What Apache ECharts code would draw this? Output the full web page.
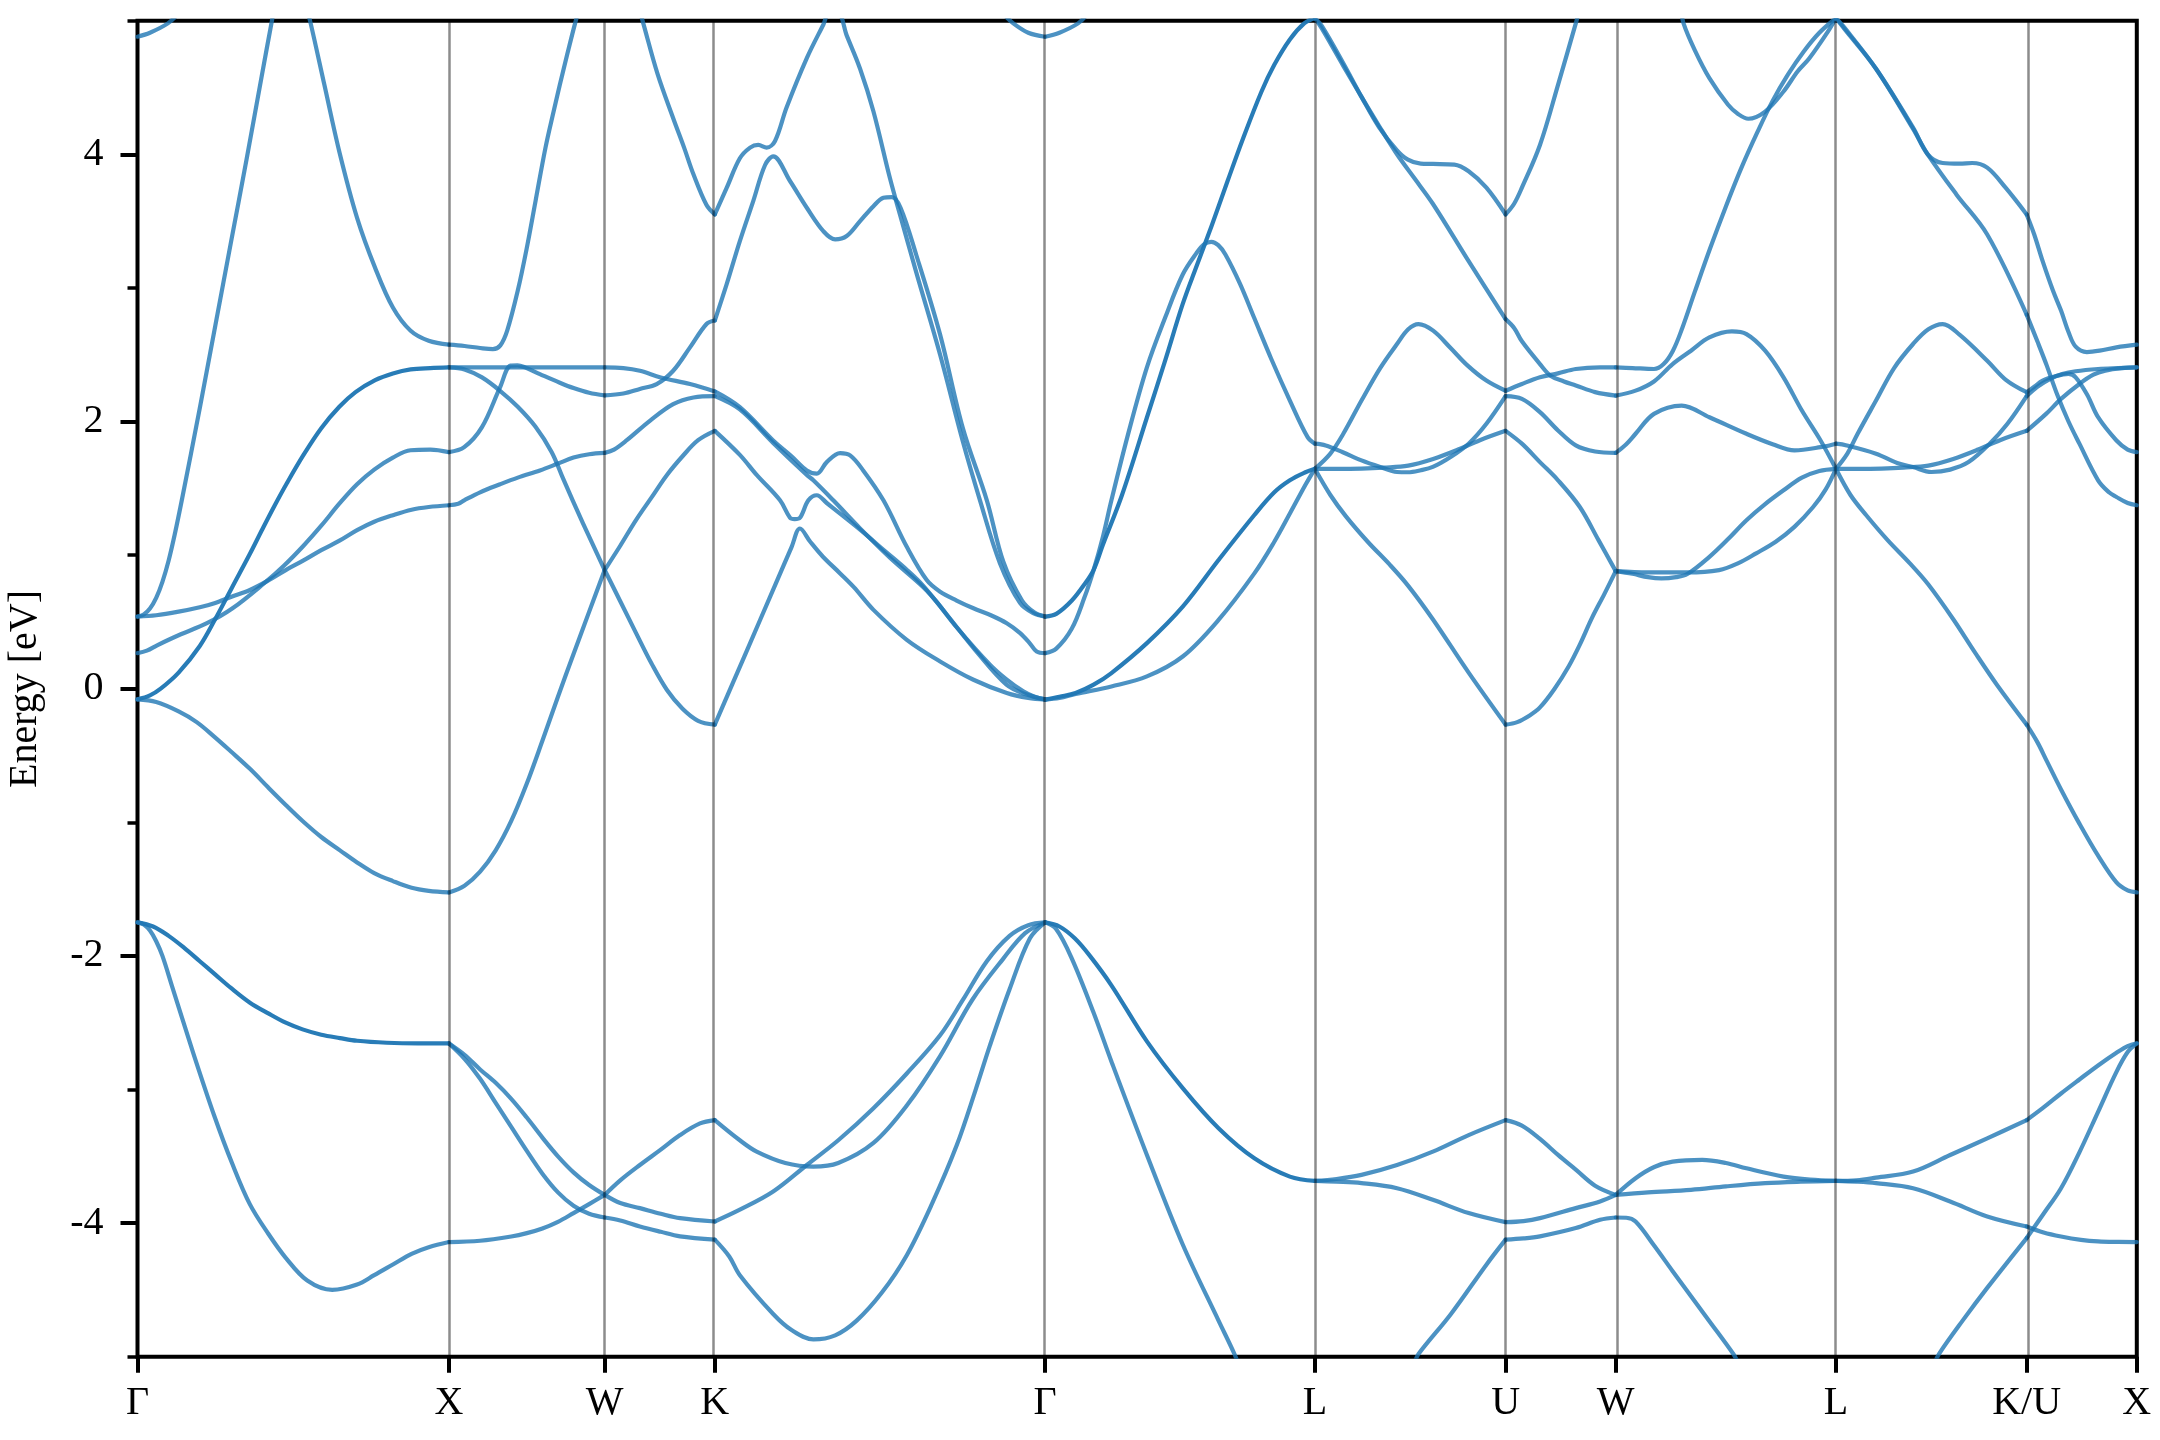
<!DOCTYPE html>
<html><head><meta charset="utf-8">
<script src="https://cdn.jsdelivr.net/npm/echarts@6/dist/echarts.min.js"></script>
<style>html,body{margin:0;padding:0;background:#fff}#c{width:2160px;height:1440px}</style>
</head><body><div id="c"></div>
<script>
// high-symmetry path (cumulative k, FCC)
const kNodes = [0, 1, 1.5, 1.8536, 2.9142, 3.7802, 4.3926, 4.7462, 5.4533, 6.0657, 6.4193];
const kLabels = ['Γ', 'X', 'W', 'K', 'Γ', 'L', 'U', 'W', 'L', 'K/U', 'X'];
const yTicks = [-4, -2, 0, 2, 4];
const yMinorTicks = [-5, -3, -1, 1, 3, 5];

// doubly degenerate bands (drawn darker)
const darkGX1 = [[0,-1.749],[0.05,-1.78],[0.1,-1.85],[0.15,-1.94],[0.2,-2.04],[0.25,-2.14],[0.3,-2.24],[0.361,-2.35],[0.42,-2.43],[0.476,-2.5],[0.53,-2.55],[0.59,-2.59],[0.65,-2.615],[0.705,-2.635],[0.8,-2.65],[0.9,-2.655],[1,-2.655]];
const darkGX2 = [[0,-0.08],[0.04,-0.05],[0.0745,0.0],[0.132,0.12],[0.2,0.32],[0.247,0.51],[0.304,0.76],[0.361,1.01],[0.4,1.19],[0.44,1.37],[0.48,1.54],[0.533,1.75],[0.59,1.95],[0.648,2.11],[0.7,2.22],[0.763,2.31],[0.82,2.36],[0.877,2.39],[0.94,2.4],[1,2.405]];
const darkGL1 = [[2.9142,0.54],[2.95,0.56],[3.0,0.66],[3.04,0.78],[3.07,0.89],[3.1,1.08],[3.161,1.45],[3.241,2.03],[3.3,2.46],[3.356,2.88],[3.4,3.16],[3.448,3.46],[3.5,3.8],[3.55,4.12],[3.609,4.47],[3.65,4.67],[3.7,4.86],[3.746,4.98],[3.7802,5.02]];
const darkGL2 = [[2.9142,-0.082],[2.96,-0.06],[3.012,-0.032],[3.07,0.03],[3.127,0.117],[3.241,0.341],[3.356,0.614],[3.471,0.963],[3.586,1.3],[3.65,1.47],[3.7,1.56],[3.75,1.62],[3.7802,1.646]];
const darkGL3 = [[2.9142,-1.749],[2.96,-1.78],[3.01,-1.87],[3.058,-2.0],[3.127,-2.22],[3.241,-2.64],[3.356,-2.99],[3.471,-3.29],[3.586,-3.515],[3.7,-3.652],[3.7802,-3.684]];
const darkBands = [darkGX1, darkGX2, darkGL1, darkGL2, darkGL3];

// Γ - X
const bandsGX = [
  [[0,-1.749],[0.02,-1.765],[0.04,-1.81],[0.06,-1.89],[0.08,-2.0],[0.11,-2.22],[0.178,-2.72],[0.247,-3.2],[0.305,-3.56],[0.361,-3.86],[0.42,-4.08],[0.476,-4.26],[0.545,-4.43],[0.625,-4.5],[0.705,-4.46],[0.76,-4.39],[0.82,-4.31],[0.88,-4.23],[0.935,-4.18],[1,-4.142]],
  [[0,-0.08],[0.06,-0.1],[0.132,-0.17],[0.19,-0.25],[0.247,-0.36],[0.3,-0.47],[0.361,-0.6],[0.42,-0.74],[0.476,-0.87],[0.53,-0.99],[0.59,-1.11],[0.65,-1.21],[0.705,-1.3],[0.76,-1.38],[0.82,-1.44],[0.88,-1.49],[0.935,-1.513],[1,-1.525]],
  [[0,0.266],[0.03,0.285],[0.063,0.325],[0.132,0.4],[0.223,0.49],[0.304,0.6],[0.407,0.79],[0.47,0.92],[0.533,1.07],[0.59,1.22],[0.65,1.39],[0.705,1.53],[0.76,1.64],[0.82,1.73],[0.877,1.785],[0.94,1.79],[1,1.771]],
  [[0,0.54],[0.06,0.55],[0.132,0.577],[0.2,0.61],[0.247,0.64],[0.304,0.69],[0.361,0.739],[0.42,0.81],[0.476,0.888],[0.533,0.96],[0.59,1.037],[0.65,1.11],[0.705,1.187],[0.76,1.25],[0.82,1.299],[0.88,1.34],[0.935,1.36],[1,1.373]],
  [[0,0.54],[0.02,0.555],[0.04,0.6],[0.06,0.68],[0.08,0.8],[0.1,0.96],[0.12,1.16],[0.143,1.42],[0.2,2.1],[0.25,2.72],[0.3,3.34],[0.35,3.96],[0.4,4.6],[0.43,4.98],[0.45,5.22]],
  [[0,4.88],[0.04,4.91],[0.0975,4.98],[0.13,5.05]],
  [[0.54,5.12],[0.556,4.98],[0.6,4.52],[0.648,4.02],[0.705,3.525],[0.763,3.15],[0.82,2.853],[0.877,2.679],[0.935,2.604],[1,2.575]]
];
// X - W
const bandsXW = [
  [[1,2.575],[1.05,2.565],[1.1,2.55],[1.141,2.542],[1.165,2.57],[1.187,2.68],[1.221,2.98],[1.25,3.3],[1.278,3.65],[1.31,4.05],[1.336,4.32],[1.356,4.52],[1.38,4.75],[1.405,4.98],[1.42,5.1]],
  [[1,2.405],[1.25,2.405],[1.5,2.405]],
  [[1,2.405],[1.05,2.39],[1.106,2.33],[1.164,2.23],[1.221,2.11],[1.278,1.96],[1.33,1.77],[1.367,1.57],[1.43,1.24],[1.5,0.888]],
  [[1,1.771],[1.049,1.808],[1.106,1.958],[1.164,2.256],[1.198,2.418],[1.22,2.42],[1.244,2.405],[1.292,2.355],[1.356,2.29],[1.4,2.25],[1.45,2.215],[1.5,2.195]],
  [[1,1.373],[1.03,1.385],[1.049,1.41],[1.1,1.47],[1.164,1.53],[1.221,1.58],[1.292,1.634],[1.35,1.685],[1.4,1.73],[1.45,1.755],[1.5,1.765]],
  [[1,-1.525],[1.05,-1.475],[1.1,-1.37],[1.15,-1.21],[1.2,-0.99],[1.25,-0.71],[1.3,-0.39],[1.35,-0.06],[1.4,0.26],[1.45,0.575],[1.5,0.888]],
  [[1,-2.655],[1.05,-2.74],[1.1,-2.85],[1.15,-2.95],[1.2,-3.07],[1.25,-3.21],[1.3,-3.36],[1.35,-3.5],[1.4,-3.62],[1.45,-3.715],[1.5,-3.789]],
  [[1,-2.655],[1.05,-2.77],[1.1,-2.92],[1.15,-3.1],[1.2,-3.28],[1.25,-3.46],[1.3,-3.63],[1.35,-3.77],[1.4,-3.87],[1.45,-3.93],[1.5,-3.958]],
  [[1,-4.142],[1.1,-4.132],[1.2,-4.1],[1.25,-4.075],[1.3,-4.04],[1.35,-3.99],[1.4,-3.925],[1.45,-3.858],[1.5,-3.789]]
];
// W - K
const bandsWK = [
  [[1.61,5.1],[1.624,4.98],[1.67,4.6],[1.72,4.27],[1.755,4.05],[1.785,3.85],[1.827,3.62],[1.8536,3.55]],
  [[1.5,2.405],[1.56,2.4],[1.613,2.38],[1.68,2.33],[1.774,2.28],[1.8536,2.225]],
  [[1.5,2.195],[1.56,2.21],[1.613,2.244],[1.667,2.28],[1.72,2.38],[1.774,2.555],[1.827,2.73],[1.8536,2.756]],
  [[1.5,1.765],[1.53,1.79],[1.571,1.86],[1.646,2.007],[1.72,2.13],[1.785,2.18],[1.8536,2.19]],
  [[1.5,0.888],[1.55,1.07],[1.6,1.26],[1.65,1.43],[1.7,1.6],[1.75,1.74],[1.8,1.86],[1.8536,1.93]],
  [[1.5,0.888],[1.55,0.655],[1.6,0.42],[1.65,0.19],[1.7,-0.01],[1.75,-0.15],[1.8,-0.24],[1.8536,-0.269]],
  [[1.5,-3.789],[1.55,-3.68],[1.613,-3.565],[1.68,-3.45],[1.742,-3.341],[1.806,-3.254],[1.8536,-3.229]],
  [[1.5,-3.789],[1.55,-3.85],[1.613,-3.888],[1.68,-3.93],[1.742,-3.963],[1.8536,-3.988]],
  [[1.5,-3.958],[1.55,-3.98],[1.613,-4.025],[1.68,-4.065],[1.742,-4.099],[1.8536,-4.124]]
];
// K - Γ
const bandsKG = [
  [[1.8536,3.55],[1.892,3.75],[1.934,3.97],[1.967,4.05],[1.993,4.07],[2.02,4.05],[2.047,4.1],[2.084,4.35],[2.149,4.72],[2.202,4.97],[2.22,5.05],[2.25,5.05],[2.277,4.89],[2.32,4.64],[2.363,4.32],[2.416,3.82],[2.448,3.55],[2.5,3.12],[2.577,2.5],[2.65,1.85],[2.705,1.41],[2.769,0.94],[2.834,0.64],[2.876,0.565],[2.9142,0.54]],
  [[1.8536,2.756],[1.892,3.03],[1.934,3.35],[1.977,3.65],[2.015,3.92],[2.041,3.985],[2.095,3.8],[2.149,3.6],[2.202,3.425],[2.24,3.363],[2.277,3.388],[2.32,3.5],[2.363,3.612],[2.395,3.674],[2.422,3.68],[2.45,3.6],[2.5,3.25],[2.577,2.65],[2.65,1.95],[2.727,1.41],[2.78,0.95],[2.84,0.66],[2.88,0.57],[2.9142,0.54]],
  [[1.8536,2.225],[1.934,2.107],[2.041,1.858],[2.1,1.74],[2.149,1.634],[2.181,1.61],[2.213,1.696],[2.256,1.764],[2.288,1.746],[2.33,1.634],[2.395,1.41],[2.47,1.062],[2.534,0.813],[2.577,0.726],[2.63,0.66],[2.684,0.602],[2.74,0.55],[2.791,0.49],[2.834,0.416],[2.865,0.34],[2.887,0.278],[2.9142,0.266]],
  [[1.8536,2.19],[1.934,2.09],[2.041,1.84],[2.149,1.6],[2.17,1.56],[2.234,1.41],[2.32,1.2],[2.416,0.98],[2.523,0.76],[2.566,0.65],[2.63,0.46],[2.737,0.18],[2.79,0.07],[2.844,-0.02],[2.88,-0.06],[2.9142,-0.08]],
  [[1.8536,1.93],[1.934,1.75],[1.988,1.6],[2.063,1.41],[2.095,1.28],[2.11,1.27],[2.127,1.28],[2.154,1.41],[2.181,1.448],[2.213,1.39],[2.256,1.31],[2.32,1.19],[2.4,1.03],[2.47,0.89],[2.523,0.77],[2.6,0.55],[2.7,0.26],[2.79,0.03],[2.85,-0.04],[2.9142,-0.08]],
  [[1.8536,-0.269],[1.95,0.25],[2.05,0.79],[2.1,1.06],[2.127,1.199],[2.16,1.1],[2.2,0.99],[2.256,0.863],[2.3,0.76],[2.363,0.59],[2.47,0.366],[2.577,0.204],[2.684,0.067],[2.791,-0.032],[2.86,-0.07],[2.9142,-0.082]],
  [[1.8536,-3.229],[1.934,-3.38],[1.988,-3.465],[2.08,-3.55],[2.17,-3.577],[2.25,-3.55],[2.363,-3.4],[2.47,-3.12],[2.577,-2.75],[2.68,-2.33],[2.78,-2.02],[2.85,-1.83],[2.9142,-1.749]],
  [[1.8536,-3.988],[1.934,-3.9],[2.041,-3.764],[2.149,-3.565],[2.25,-3.38],[2.363,-3.14],[2.47,-2.88],[2.577,-2.594],[2.65,-2.33],[2.727,-2.04],[2.8,-1.85],[2.86,-1.77],[2.9142,-1.749]],
  [[1.8536,-4.124],[1.9,-4.25],[1.934,-4.39],[2.041,-4.68],[2.1,-4.8],[2.17,-4.87],[2.24,-4.84],[2.309,-4.73],[2.39,-4.52],[2.47,-4.24],[2.55,-3.86],[2.63,-3.42],[2.69,-3.01],[2.737,-2.67],[2.8,-2.25],[2.865,-1.87],[2.9142,-1.749]],
  [[2.78,5.05],[2.812,4.98],[2.86,4.91],[2.9142,4.88]]
];
// Γ - L
const bandsGL = [
  [[2.9142,4.88],[2.96,4.91],[3.02,4.98],[3.05,5.05]],
  [[2.9142,0.266],[2.95,0.3],[3.0,0.45],[3.04,0.68],[3.07,0.89],[3.1,1.14],[3.127,1.41],[3.18,1.9],[3.241,2.405],[3.3,2.78],[3.356,3.1],[3.4,3.26],[3.424,3.326],[3.448,3.345],[3.47,3.32],[3.493,3.25],[3.54,3.03],[3.585,2.778],[3.64,2.47],[3.7,2.157],[3.757,1.883],[3.7802,1.834]],
  [[2.9142,-0.082],[2.96,-0.07],[3.012,-0.04],[3.127,0.017],[3.241,0.092],[3.356,0.241],[3.471,0.515],[3.586,0.863],[3.65,1.1],[3.7,1.311],[3.751,1.53],[3.7802,1.646]],
  [[2.9142,-1.749],[2.95,-1.8],[3.0,-2.02],[3.069,-2.42],[3.127,-2.79],[3.241,-3.49],[3.356,-4.16],[3.471,-4.73],[3.522,-4.98],[3.55,-5.15]]
];
// L - U
const bandsLU = [
  [[3.7802,5.02],[3.803,4.96],[3.872,4.68],[3.93,4.43],[3.987,4.2],[4.044,4.03],[4.079,3.96],[4.12,3.93],[4.159,3.928],[4.228,3.923],[4.274,3.873],[4.331,3.75],[4.3926,3.55]],
  [[3.7802,5.02],[3.803,4.94],[3.872,4.66],[3.93,4.43],[3.987,4.21],[4.044,4.0],[4.1,3.82],[4.159,3.63],[4.274,3.2],[4.3926,2.766]],
  [[3.7802,1.646],[3.83,1.76],[3.872,1.91],[3.93,2.157],[3.99,2.4],[4.044,2.58],[4.08,2.69],[4.113,2.729],[4.16,2.68],[4.216,2.55],[4.27,2.42],[4.331,2.306],[4.3926,2.23]],
  [[3.7802,1.834],[3.815,1.821],[3.87,1.77],[3.93,1.709],[3.99,1.66],[4.044,1.622],[4.079,1.62],[4.12,1.635],[4.159,1.66],[4.216,1.734],[4.274,1.834],[4.331,1.983],[4.3926,2.19]],
  [[3.7802,1.646],[3.85,1.646],[3.93,1.648],[4.0,1.655],[4.08,1.67],[4.16,1.72],[4.24,1.79],[4.31,1.86],[4.3926,1.93]],
  [[3.7802,1.646],[3.83,1.45],[3.88,1.29],[3.95,1.1],[4.02,0.93],[4.08,0.77],[4.159,0.52],[4.274,0.12],[4.3926,-0.269]],
  [[3.7802,-3.684],[3.85,-3.67],[3.93,-3.639],[4.044,-3.565],[4.159,-3.465],[4.274,-3.341],[4.3926,-3.229]],
  [[3.7802,-3.684],[3.85,-3.69],[3.93,-3.701],[4.044,-3.739],[4.159,-3.826],[4.274,-3.925],[4.3926,-3.993]],
  [[4.1,-5.05],[4.113,-4.98],[4.216,-4.684],[4.331,-4.311],[4.3926,-4.124]]
];
// U - W
const bandsUW = [
  [[4.3926,3.55],[4.42,3.63],[4.445,3.75],[4.503,4.07],[4.561,4.52],[4.618,4.98],[4.635,5.12]],
  [[4.3926,2.766],[4.42,2.7],[4.445,2.6],[4.503,2.43],[4.537,2.343],[4.58,2.3],[4.618,2.27],[4.68,2.22],[4.7462,2.194]],
  [[4.3926,2.23],[4.445,2.281],[4.503,2.331],[4.561,2.36],[4.618,2.393],[4.696,2.405],[4.7462,2.405]],
  [[4.3926,2.19],[4.445,2.169],[4.503,2.07],[4.561,1.933],[4.618,1.821],[4.68,1.775],[4.7462,1.765]],
  [[4.3926,1.93],[4.445,1.834],[4.503,1.696],[4.561,1.56],[4.631,1.36],[4.691,1.112],[4.7462,0.88]],
  [[4.3926,-0.269],[4.43,-0.25],[4.47,-0.2],[4.503,-0.14],[4.55,0.0],[4.595,0.166],[4.631,0.33],[4.67,0.53],[4.71,0.71],[4.7462,0.88]],
  [[4.3926,-3.229],[4.445,-3.27],[4.503,-3.37],[4.561,-3.49],[4.618,-3.6],[4.68,-3.72],[4.7462,-3.789]],
  [[4.3926,-3.993],[4.45,-3.985],[4.503,-3.963],[4.618,-3.888],[4.696,-3.838],[4.7462,-3.789]],
  [[4.3926,-4.124],[4.45,-4.115],[4.503,-4.099],[4.618,-4.037],[4.696,-3.975],[4.7462,-3.958]]
];
// W - L
const bandsWL = [
  [[4.7462,2.405],[4.8,2.4],[4.869,2.393],[4.9,2.43],[4.93,2.53],[4.96,2.7],[5.0,2.97],[5.05,3.3],[5.1,3.61],[5.15,3.9],[5.2,4.16],[5.25,4.4],[5.3,4.6],[5.35,4.77],[5.4,4.91],[5.4533,5.02]],
  [[4.955,5.1],[4.964,4.98],[5.0,4.78],[5.047,4.57],[5.107,4.371],[5.14,4.3],[5.172,4.266],[5.226,4.32],[5.285,4.47],[5.33,4.62],[5.368,4.719],[5.428,4.92],[5.4533,5.02]],
  [[4.7462,2.194],[4.81,2.231],[4.869,2.3],[4.929,2.43],[4.988,2.53],[5.047,2.629],[5.119,2.674],[5.166,2.654],[5.226,2.53],[5.285,2.331],[5.344,2.082],[5.404,1.858],[5.4533,1.646]],
  [[4.7462,1.765],[4.78,1.83],[4.81,1.908],[4.869,2.057],[4.958,2.119],[5.047,2.032],[5.166,1.908],[5.25,1.83],[5.32,1.784],[5.404,1.808],[5.4533,1.834]],
  [[4.7462,0.88],[4.8,0.86],[4.85,0.835],[4.893,0.826],[4.94,0.835],[4.976,0.858],[5.047,0.987],[5.107,1.12],[5.166,1.261],[5.225,1.38],[5.285,1.485],[5.344,1.58],[5.4,1.63],[5.4533,1.646]],
  [[4.7462,0.88],[4.85,0.87],[4.976,0.87],[5.078,0.888],[5.14,0.94],[5.197,1.013],[5.26,1.1],[5.32,1.211],[5.38,1.36],[5.42,1.49],[5.4533,1.646]],
  [[4.7462,-3.789],[4.81,-3.664],[4.87,-3.58],[4.929,-3.54],[5.024,-3.527],[5.1,-3.55],[5.166,-3.59],[5.285,-3.652],[5.37,-3.675],[5.4533,-3.684]],
  [[4.7462,-3.789],[4.85,-3.77],[4.988,-3.751],[5.1,-3.725],[5.226,-3.701],[5.34,-3.69],[5.4533,-3.684]],
  [[4.7462,-3.958],[4.78,-3.96],[4.81,-3.988],[4.87,-4.17],[4.929,-4.36],[5.047,-4.734],[5.124,-4.98],[5.14,-5.05]]
];
// L - K/U
const bandsLK = [
  [[5.4533,5.02],[5.48,4.95],[5.582,4.64],[5.701,4.2],[5.748,4.0],[5.796,3.935],[5.85,3.93],[5.891,3.935],[5.939,3.9],[5.998,3.75],[6.0657,3.55]],
  [[5.4533,5.02],[5.48,4.94],[5.582,4.64],[5.701,4.19],[5.748,4.0],[5.84,3.7],[5.939,3.4],[6.0657,2.8]],
  [[5.4533,1.646],[5.49,1.76],[5.523,1.908],[5.582,2.157],[5.64,2.4],[5.701,2.58],[5.75,2.69],[5.796,2.729],[5.85,2.65],[5.939,2.455],[6.0,2.31],[6.0657,2.219]],
  [[5.4533,1.834],[5.488,1.821],[5.582,1.759],[5.65,1.69],[5.701,1.659],[5.76,1.622],[5.82,1.64],[5.879,1.696],[5.947,1.834],[6.004,1.983],[6.0657,2.19]],
  [[5.4533,1.646],[5.52,1.646],[5.6,1.648],[5.67,1.655],[5.75,1.67],[5.83,1.72],[5.91,1.79],[5.98,1.86],[6.0657,1.93]],
  [[5.4533,1.646],[5.5,1.45],[5.55,1.3],[5.62,1.11],[5.69,0.94],[5.75,0.78],[5.83,0.52],[5.9,0.27],[5.97,0.03],[6.0657,-0.269]],
  [[5.4533,-3.684],[5.52,-3.68],[5.582,-3.66],[5.701,-3.614],[5.82,-3.49],[5.939,-3.366],[6.0657,-3.229]],
  [[5.4533,-3.684],[5.52,-3.69],[5.582,-3.701],[5.701,-3.739],[5.82,-3.838],[5.939,-3.95],[6.0657,-4.025]],
  [[5.77,-5.05],[5.784,-4.98],[5.86,-4.73],[5.939,-4.485],[6.0657,-4.112]]
];
// K/U - X
const bandsKX = [
  [[6.0657,3.55],[6.09,3.4],[6.117,3.2],[6.15,2.98],[6.176,2.83],[6.2,2.67],[6.223,2.56],[6.259,2.52],[6.3,2.53],[6.354,2.555],[6.4193,2.575]],
  [[6.0657,2.8],[6.1,2.6],[6.13,2.42],[6.164,2.2],[6.2,2.0],[6.235,1.834],[6.295,1.56],[6.33,1.47],[6.354,1.435],[6.39,1.39],[6.4193,1.373]],
  [[6.0657,2.219],[6.09,2.26],[6.117,2.306],[6.16,2.34],[6.2,2.356],[6.223,2.331],[6.26,2.2],[6.295,2.032],[6.354,1.858],[6.39,1.79],[6.4193,1.771]],
  [[6.0657,2.19],[6.1,2.26],[6.14,2.318],[6.18,2.355],[6.223,2.376],[6.295,2.393],[6.36,2.4],[6.4193,2.405]],
  [[6.0657,1.93],[6.128,2.057],[6.176,2.169],[6.235,2.281],[6.28,2.35],[6.318,2.381],[6.37,2.4],[6.4193,2.405]],
  [[6.0657,-0.269],[6.1,-0.4],[6.13,-0.54],[6.176,-0.754],[6.235,-1.01],[6.295,-1.25],[6.354,-1.45],[6.39,-1.51],[6.4193,-1.525]],
  [[6.0657,-3.229],[6.117,-3.14],[6.176,-3.03],[6.235,-2.925],[6.295,-2.82],[6.354,-2.725],[6.39,-2.675],[6.4193,-2.655]],
  [[6.0657,-4.025],[6.12,-4.07],[6.176,-4.1],[6.24,-4.125],[6.295,-4.137],[6.36,-4.141],[6.4193,-4.142]],
  [[6.0657,-4.112],[6.12,-3.93],[6.176,-3.739],[6.235,-3.47],[6.295,-3.167],[6.354,-2.868],[6.39,-2.72],[6.4193,-2.655]]
];

const singleBands = [].concat(bandsGX, bandsXW, bandsWK, bandsKG, bandsGL, bandsLU, bandsUW, bandsWL, bandsLK, bandsKX);

const chart = echarts.init(document.getElementById('c'), null, {renderer: 'canvas'});
const FONT = '"Liberation Serif", "Times New Roman", serif';
const BLUE = '#1f77b4';

function bandSeries(data, opacity) {
  return {
    type: 'line', data: data, showSymbol: false, symbol: 'none', smooth: 0.35,
    silent: true, clip: true, z: 3,
    lineStyle: {color: BLUE, width: 4.2, opacity: opacity, cap: 'round', join: 'round'}
  };
}

const series = [];
series.push({
  type: 'line', data: [], silent: true, z: 1,
  markLine: {
    silent: true, symbol: ['none', 'none'], animation: false,
    label: {show: false},
    lineStyle: {color: 'rgba(0,0,0,0.45)', width: 2.5, type: 'solid'},
    data: kNodes.slice(1, -1).map(k => ({xAxis: k}))
  }
});
singleBands.forEach(b => series.push(bandSeries(b, 0.8)));
darkBands.forEach(b => series.push(bandSeries(b, 0.96)));

function kLabel(v) {
  let best = 0;
  for (let i = 1; i < kNodes.length; i++) if (Math.abs(kNodes[i] - v) < Math.abs(kNodes[best] - v)) best = i;
  return kLabels[best];
}

chart.setOption({
  animation: false,
  backgroundColor: '#fff',
  grid: {left: 137.5, top: 20.7, width: 1999.3, height: 1336, show: true, borderColor: '#000', borderWidth: 4, backgroundColor: 'transparent'},
  xAxis: {
    type: 'value', min: 0, max: kNodes[kNodes.length - 1], position: 'bottom',
    axisLine: {show: false, onZero: false},
    splitLine: {show: false},
    axisTick: {show: true, customValues: kNodes, length: 16, inside: false, lineStyle: {color: '#000', width: 4}},
    axisLabel: {show: true, customValues: kNodes, formatter: v => kLabel(v), fontFamily: FONT, fontSize: 40, color: '#000', margin: 27, hideOverlap: false, showMinLabel: true, showMaxLabel: true}
  },
  yAxis: [{
    type: 'value', min: -5, max: 5, position: 'left',
    axisLine: {show: false, onZero: false},
    splitLine: {show: false},
    axisTick: {show: true, customValues: yTicks, length: 17, inside: false, lineStyle: {color: '#000', width: 4}},
    axisLabel: {show: true, customValues: yTicks, formatter: v => String(v), fontFamily: FONT, fontSize: 40, color: '#000', margin: 34}
  }, {
    type: 'value', min: -5, max: 5, position: 'left', offset: 0,
    axisLine: {show: false, onZero: false},
    splitLine: {show: false},
    axisTick: {show: true, customValues: yMinorTicks, length: 10, inside: false, lineStyle: {color: '#000', width: 3.5}},
    axisLabel: {show: false}
  }],
  graphic: [{
    type: 'text', x: 25, y: 689, rotation: Math.PI / 2,
    style: {text: 'Energy [eV]', fill: '#000', font: '40px ' + FONT, textAlign: 'center', textVerticalAlign: 'middle'}
  }],
  series: series
});
</script>
</body></html>
